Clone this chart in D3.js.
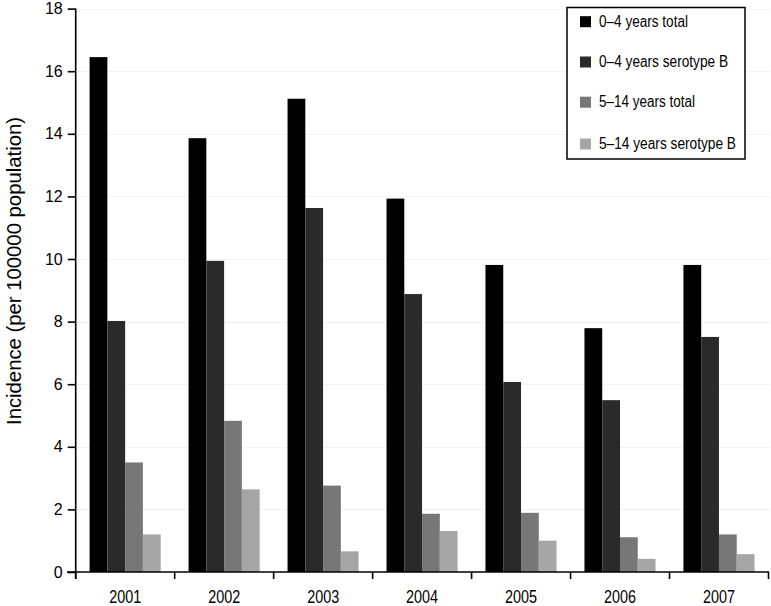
<!DOCTYPE html>
<html>
<head>
<meta charset="utf-8">
<script src="https://cdn.jsdelivr.net/npm/d3@7/dist/d3.min.js"></script>
<style>
  html, body { margin: 0; padding: 0; background: #fff; }
  svg { display: block; }
  .reg { font-family: "Liberation Sans", Arial, Helvetica, sans-serif; }
</style>
</head>
<body>
<svg id="chart" width="771" height="606"></svg>
<script>
const years = ["2001", "2002", "2003", "2004", "2005", "2006", "2007"];
const seriesNames = ["0–4 years total", "0–4 years serotype B", "5–14 years total", "5–14 years serotype B"];
const seriesColors = ["#000000", "#2a2a2a", "#777777", "#a6a6a6"];
const total0to4 = [16.45, 13.86, 15.12, 11.93, 9.81, 7.79, 9.81];
const serotypeB0to4 = [8.02, 9.94, 11.63, 8.88, 6.07, 5.49, 7.51];
const total5to14 = [3.50, 4.83, 2.76, 1.86, 1.89, 1.11, 1.20];
const serotypeB5to14 = [1.20, 2.64, 0.66, 1.31, 1.00, 0.42, 0.57];
const yTicks = [0, 2, 4, 6, 8, 10, 12, 14, 16, 18];
const yTitle = "Incidence (per 100000 population)";

const seriesValues = [total0to4, serotypeB0to4, total5to14, serotypeB5to14];
const table = years.map((yr, i) => ({ year: yr, values: seriesValues.map((s, k) => ({ key: k, value: s[i] })) }));

const svg = d3.select("#chart");
const x0 = d3.scaleBand().domain(years).range([75.7, 768.5]).paddingInner(0).paddingOuter(0);
const bw = x0.bandwidth();
const x1 = d3.scaleBand().domain(d3.range(seriesNames.length)).range([13.9, bw - 14]).padding(0);
const y = d3.scaleLinear().domain([0, 18]).range([572, 8.6]);

// faint gridlines
svg.append("g").selectAll("line").data(yTicks.filter(d => d > 0)).join("line")
  .attr("x1", 77).attr("x2", 770)
  .attr("y1", d => Math.round(y(d)) + 0.5).attr("y2", d => Math.round(y(d)) + 0.5)
  .attr("stroke", "#f2f2f2").attr("stroke-width", 1);

// bars
const groups = svg.append("g").selectAll("g").data(table).join("g")
  .attr("transform", d => `translate(${x0(d.year)},0)`);
groups.selectAll("rect").data(d => d.values).join("rect")
  .attr("x", d => x1(d.key))
  .attr("width", x1.bandwidth())
  .attr("y", d => y(d.value))
  .attr("height", d => y(0) - y(d.value))
  .attr("fill", d => seriesColors[d.key]);

// y axis
const yAxis = d3.axisLeft(y).tickValues(yTicks).tickSize(8).tickPadding(5).tickSizeOuter(0);
const gy = svg.append("g").attr("transform", "translate(75.7,0)").call(yAxis);
gy.select(".domain").remove();
gy.append("line").attr("x1", 0).attr("x2", 0).attr("y1", y(18)).attr("y2", 579)
  .attr("stroke", "#000").attr("stroke-width", 1.6);
gy.selectAll(".tick line").attr("stroke", "#000").attr("stroke-width", 1.6);
gy.selectAll(".tick text").attr("class", "reg").attr("font-size", 16).attr("fill", "#000");

// x axis
const xAxis = d3.axisBottom(x0).tickSize(0).tickPadding(0);
const gx = svg.append("g").attr("transform", "translate(0,572)").call(xAxis);
gx.select(".domain").remove();
gx.append("line").attr("x1", 67).attr("x2", 769).attr("y1", 0).attr("y2", 0)
  .attr("stroke", "#000").attr("stroke-width", 1.6);
const edges = years.map(yv => x0(yv)).concat([x0(years[years.length - 1]) + bw]);
gx.selectAll(".edge").data(edges).join("line").attr("class", "edge")
  .attr("x1", d => d).attr("x2", d => d).attr("y1", 0).attr("y2", 7)
  .attr("stroke", "#000").attr("stroke-width", 1.6);
gx.selectAll(".tick text").attr("class", "reg").attr("font-size", 18).attr("fill", "#000")
  .attr("y", 31).attr("dy", null)
  .attr("textLength", 32).attr("lengthAdjust", "spacingAndGlyphs");

// y title
svg.append("text").attr("class", "reg")
  .attr("transform", `translate(21,${(117 + 425) / 2}) rotate(-90)`)
  .attr("text-anchor", "middle").attr("font-size", 19.5).attr("fill", "#000")
  .attr("textLength", 308).attr("lengthAdjust", "spacingAndGlyphs")
  .text(yTitle);

// legend
const legendWidths = [89, 129, 96, 137];
const lg = svg.append("g");
lg.append("rect").attr("x", 567).attr("y", 7.5).attr("width", 178).attr("height", 151.5)
  .attr("fill", "#fff").attr("stroke", "#000").attr("stroke-width", 1.5);
const baselines = [26.7, 67, 107.2, 149];
const items = lg.selectAll("g.item").data(seriesNames).join("g").attr("class", "item");
items.append("rect").attr("x", 580).attr("y", (d, i) => baselines[i] - 10.5)
  .attr("width", 11).attr("height", 11).attr("fill", (d, i) => seriesColors[i]);
items.append("text").attr("class", "reg").attr("x", 599).attr("y", (d, i) => baselines[i])
  .attr("font-size", 16).attr("fill", "#000")
  .attr("textLength", (d, i) => legendWidths[i]).attr("lengthAdjust", "spacingAndGlyphs")
  .text(d => d);
</script>
</body>
</html>
